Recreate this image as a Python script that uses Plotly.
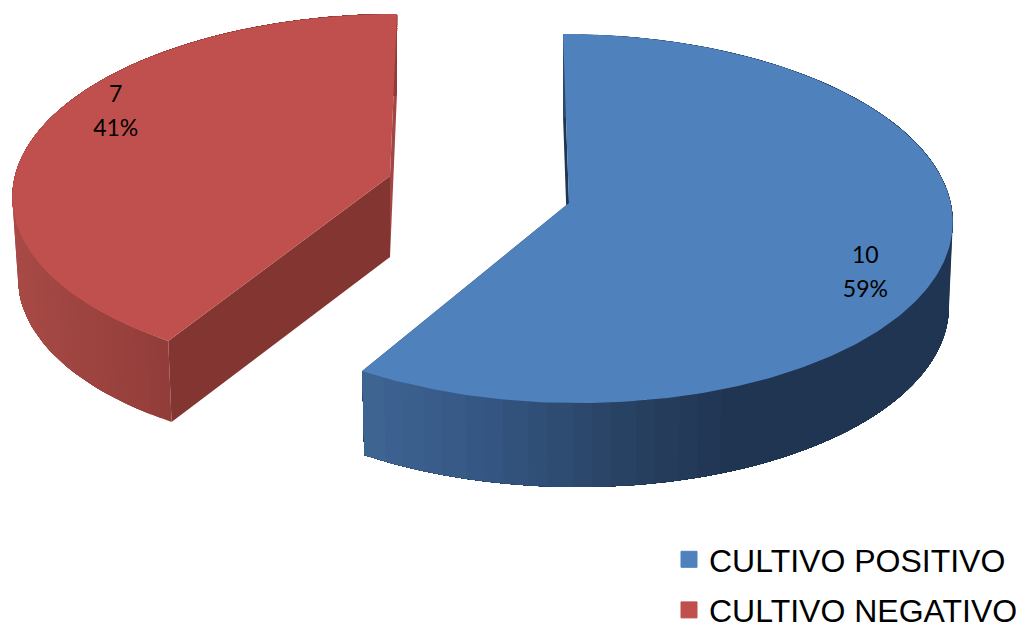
import numpy as np
import plotly.graph_objects as go

categories = ["CULTIVO POSITIVO", "CULTIVO NEGATIVO"]
values = [10, 7]
top_colors = ["#4f81bd", "#c0504d"]

W, H = 1024, 626
PAGE_MARGIN = 8  # default <body> margin of the written page
EXTRA = 40       # canvas runs past the window so the legend box fits inside the plot area
total = sum(values)

# projection settings of each exploded slice (perspective view of a flat disc)
geom = [
    dict(ax=569, ay=203, cx=570.1, cy=204, rx=380.8, ry=183.4, p=0.0786, skew=-7.63,
         depth=84, scale=0.99, label_f=0.785, label_dy=30),
    dict(ax=390, ay=176, cx=390.6, cy=176, rx=375.7, ry=177.9, p=0.0982, skew=7.06,
         depth=81, scale=0.985, label_f=0.785, label_dy=-25.5),
]
wall_ramps = [
    ([362, 500, 640, 730, 952], ["#3f6594", "#335480", "#27405f", "#1f3552", "#1f3552"]),
    ([13, 172], ["#a84a46", "#913c39"]),
]
back_colors = ["#1f3552", "#a34643"]
end_colors = ["#1f3552", "#833532"]


def project(g, t):
    X, Y = np.sin(t), np.cos(t)
    w = 1 + g["p"] * Y
    return g["cx"] + (g["rx"] * X + g["skew"] * Y) / w, g["cy"] - g["ry"] * Y / w


def lower(g, x, y):
    return g["cx"] + g["scale"] * (x - g["cx"]), y + g["depth"]


def hex2rgb(h):
    return np.array([int(h[i:i + 2], 16) for i in (1, 3, 5)], float)


def ramp(stops, cols, x):
    rgb = [np.interp(x, stops, [hex2rgb(c)[k] for c in cols]) for k in range(3)]
    return "rgb(%d,%d,%d)" % tuple(round(v) for v in rgb)


fig = go.Figure()


def poly(xs, ys, color):
    fig.add_trace(go.Scatter(x=list(xs), y=list(ys), mode="lines", fill="toself", fillcolor=color,
                             line=dict(color=color, width=0), hoverinfo="skip", showlegend=False))


# slice angles come from the values; first slice starts at 12 o'clock
edges = np.cumsum([0] + values) / total * 2 * np.pi
label_x, label_y, label_v, label_p = [], [], [], []

for i, (v, g) in enumerate(zip(values, geom)):
    t0, t1 = edges[i], edges[i + 1]
    ts = np.linspace(t0, t1, 240)
    xs, ys = project(g, ts)
    xb, yb = lower(g, xs, ys)
    d = g["depth"]

    # back wall (radial face at the start / end of the slice that is seen from the gap)
    corner = (xs[0], ys[0]) if i == 0 else (xs[-1], ys[-1])
    cb = lower(g, *corner)
    poly([corner[0], cb[0], g["ax"], g["ax"]], [corner[1], cb[1], g["ay"] + d, g["ay"]], back_colors[i])

    # front radial face
    ex, ey = (xs[-1], ys[-1]) if i == 0 else (xs[0], ys[0])
    ebx, eby = lower(g, ex, ey)
    poly([ex, ebx, g["ax"], g["ax"]], [ey, eby, g["ay"] + d, g["ay"]], end_colors[i])

    # outer rim: shaded bands, each overlapping the next so no seams appear
    stops, cols = wall_ramps[i]
    n = 70
    idx = np.linspace(0, len(ts) - 1, n + 1).astype(int)
    for a, b in zip(idx[:-1], idx[1:]):
        seg = np.r_[np.arange(a, len(ts))[::4], len(ts) - 1]
        poly(np.r_[xs[seg], xb[seg][::-1]], np.r_[ys[seg], yb[seg][::-1]],
             ramp(stops, cols, xs[a:b + 1].mean()))

    # top face
    poly(np.r_[g["ax"], xs], np.r_[g["ay"], ys], top_colors[i])

    # label position
    mid = (t0 + t1) / 2
    mx, my = project(g, mid)
    f = g["label_f"]
    lx = g["ax"] + f * (mx - g["ax"])
    ly = g["ay"] + f * (my - g["ay"]) + g["label_dy"]
    label_x.append(lx)
    label_y.append(ly)
    label_v.append(str(v))
    label_p.append(f"{round(100 * v / total)}%")

for dy, texts in ((-17, label_v), (17, label_p)):
    fig.add_trace(go.Scatter(x=label_x, y=[y + dy for y in label_y], mode="text", text=texts,
                             textposition="middle center", hoverinfo="skip", showlegend=False,
                             textfont=dict(family="Lato", size=23, color="#000000")))

for name, c in zip(categories, top_colors):
    fig.add_trace(go.Scatter(x=[None], y=[None], mode="markers", name=name, legendgroup=name,
                             marker=dict(symbol="square", size=16, color=c, line=dict(color=c, width=1))))

pw, ph = W - PAGE_MARGIN + EXTRA, H - PAGE_MARGIN + EXTRA
fig.update_layout(
    width=pw, height=ph, margin=dict(l=0, r=0, t=0, b=0),
    paper_bgcolor="white", plot_bgcolor="white",
    xaxis=dict(range=[PAGE_MARGIN, W + EXTRA], visible=False, fixedrange=True),
    yaxis=dict(range=[H + EXTRA, PAGE_MARGIN], visible=False, fixedrange=True),
    showlegend=True,
    legend=dict(x=(669 - PAGE_MARGIN) / pw, y=1 - (532 - PAGE_MARGIN) / ph,
                xanchor="left", yanchor="top", bgcolor="rgba(0,0,0,0)",
                font=dict(family="Liberation Sans", size=32, color="#000000"),
                tracegroupgap=6, itemclick=False, itemdoubleclick=False),
)

fig.write_html("out.html", config=dict(displayModeBar=False))
